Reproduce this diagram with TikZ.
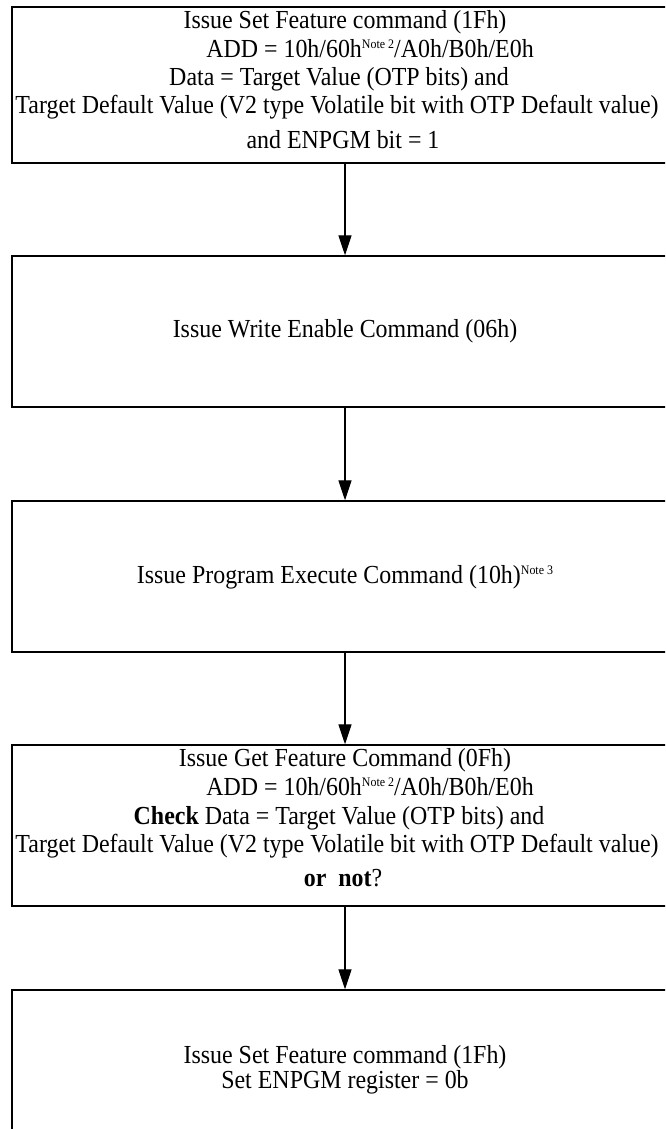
\documentclass[tikz,border=0pt]{standalone}
\usepackage{fontspec}
\setmainfont{Liberation Serif}[FakeStretch=0.92]
\usetikzlibrary{arrows.meta}
\newcommand{\notesup}[1]{\raisebox{9pt}{\fontsize{13}{13}\selectfont #1}}
\begin{document}
\begin{tikzpicture}[x=1pt,y=-1pt,
  box/.style={draw, line width=1.4pt, minimum width=666pt, inner sep=0pt},
  txt/.style={inner sep=0pt, font=\fontsize{26}{28}\selectfont},
  arr/.style={line width=1.3pt, -{Triangle[length=20pt,width=13pt]}}]
\useasboundingbox (0,0) rectangle (665,1129);
\clip (0,0) rectangle (665,1129);
% boxes
\node[box, minimum height=156pt] (b1) at (345,85) {};
\node[box, minimum height=151pt] (b2) at (345,331.5) {};
\node[box, minimum height=151pt] (b3) at (345,576.5) {};
\node[box, minimum height=161pt] (b4) at (345,825.5) {};
\node[box, minimum height=160pt] (b5) at (345,1070) {};
% box 1 text
\node[txt] (t11) at (345,22) {Issue Set Feature command (1Fh)};
\node[txt] (t12) at (370,49) {ADD = 10h/60h\notesup{Note 2}/A0h/B0h/E0h};
\node[txt] (t13) at (339,79) {Data = Target Value (OTP bits) and};
\node[txt] (t14) at (337,107) {Target Default Value (V2 type Volatile bit with OTP Default value)};
\node[txt] (t15) at (343,140) {and ENPGM bit = 1};
% box 2 text
\node[txt] (t21) at (345,331) {Issue Write Enable Command (06h)};
% box 3 text
\node[txt] (t31) at (345,577) {Issue Program Execute Command (10h)\notesup{Note 3}};
% box 4 text
\node[txt] (t41) at (345,760) {Issue Get Feature Command (0Fh)};
\node[txt] (t42) at (370,787) {ADD = 10h/60h\notesup{Note 2}/A0h/B0h/E0h};
\node[txt] (t43) at (339,818) {\textbf{Check} Data = Target Value (OTP bits) and};
\node[txt] (t44) at (337,846) {Target Default Value (V2 type Volatile bit with OTP Default value)};
\node[txt] (t45) at (343,878) {\textbf{or\ \ not}?};
% box 5 text
\node[txt] (t51) at (345,1057) {Issue Set Feature command (1Fh)};
\node[txt] (t52) at (345,1082) {Set ENPGM register = 0b};
% arrows
\draw[arr] (b1.south) -- (b2.north);
\draw[arr] (b2.south) -- (b3.north);
\draw[arr] (b3.south) -- (b4.north);
\draw[arr] (b4.south) -- (b5.north);
\end{tikzpicture}
\end{document}
